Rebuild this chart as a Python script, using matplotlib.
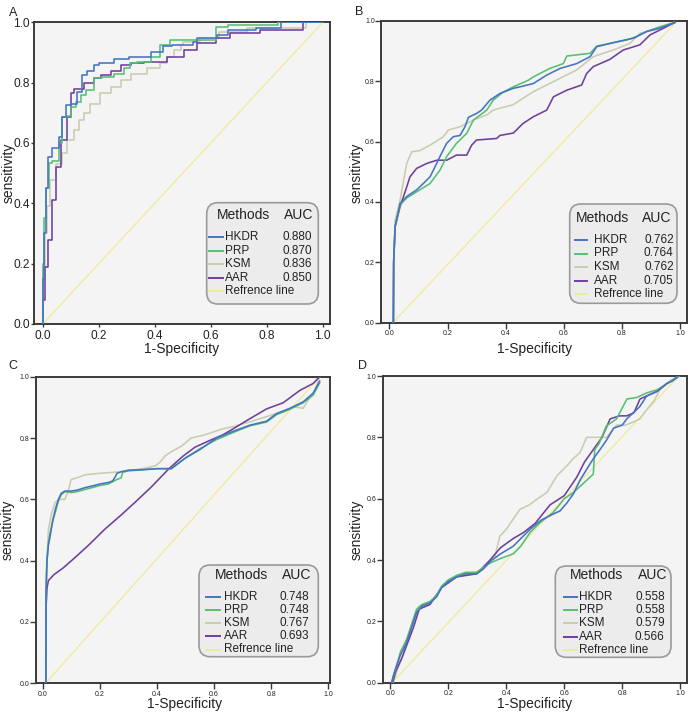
import matplotlib
matplotlib.use('Agg')
import matplotlib.pyplot as plt
from matplotlib.patches import FancyBboxPatch
from matplotlib.lines import Line2D
from matplotlib import font_manager as fm
from matplotlib.font_manager import FontProperties

# ---------------- data ----------------
methods = ['HKDR', 'PRP', 'KSM', 'AAR']
ref_label = 'Refrence line'
panel_letters = ['A', 'B', 'C', 'D']
tick_vals = [0.0, 0.2, 0.4, 0.6, 0.8, 1.0]
tick_labels = ['0.0', '0.2', '0.4', '0.6', '0.8', '1.0']

auc_A = ['0.880', '0.870', '0.836', '0.850']
auc_B = ['0.762', '0.764', '0.762', '0.705']
auc_C = ['0.748', '0.748', '0.767', '0.693']
auc_D = ['0.558', '0.558', '0.579', '0.566']

# Panel A
A_HKDR_x = [0, 0.005, 0.01, 0.02, 0.034, 0.058, 0.07, 0.082, 0.1, 0.124, 0.141, 0.159, 0.183, 0.201, 0.255, 0.308, 0.386, 0.43, 0.46, 0.538, 0.55, 0.621, 0.66, 0.76, 0.85, 0.96, 1.0]
A_HKDR_y = [0, 0.15, 0.3, 0.45, 0.555, 0.582, 0.62, 0.687, 0.726, 0.73, 0.77, 0.825, 0.84, 0.858, 0.864, 0.88, 0.886, 0.90, 0.92, 0.925, 0.935, 0.947, 0.958, 0.974, 0.98, 1.0, 1.0]
A_PRP_x = [0, 0.005, 0.01, 0.024, 0.034, 0.058, 0.07, 0.088, 0.1, 0.118, 0.135, 0.153, 0.183, 0.213, 0.255, 0.29, 0.31, 0.338, 0.386, 0.42, 0.455, 0.62, 0.663, 0.84, 0.97, 1.0]
A_PRP_y = [0, 0.2, 0.35, 0.45, 0.533, 0.54, 0.6, 0.687, 0.69, 0.72, 0.737, 0.76, 0.775, 0.814, 0.82, 0.83, 0.847, 0.864, 0.87, 0.886, 0.925, 0.94, 0.985, 0.99, 1.0, 1.0]
A_KSM_x = [0, 0.008, 0.014, 0.026, 0.046, 0.07, 0.088, 0.11, 0.13, 0.147, 0.17, 0.205, 0.243, 0.28, 0.314, 0.374, 0.42, 0.445, 0.47, 0.494, 0.502, 0.56, 0.63, 0.728, 0.94, 0.97, 1.0]
A_KSM_y = [0, 0.19, 0.3, 0.39, 0.477, 0.53, 0.566, 0.61, 0.643, 0.676, 0.70, 0.73, 0.765, 0.787, 0.81, 0.83, 0.847, 0.864, 0.886, 0.908, 0.925, 0.935, 0.947, 0.969, 0.98, 1.0, 1.0]
A_AAR_x = [0, 0.008, 0.02, 0.032, 0.046, 0.064, 0.088, 0.1, 0.112, 0.147, 0.183, 0.207, 0.243, 0.28, 0.314, 0.362, 0.445, 0.505, 0.55, 0.62, 0.669, 0.776, 0.93, 0.97, 1.0]
A_AAR_y = [0, 0.08, 0.19, 0.28, 0.41, 0.52, 0.61, 0.687, 0.765, 0.78, 0.798, 0.815, 0.825, 0.84, 0.858, 0.866, 0.87, 0.885, 0.908, 0.93, 0.947, 0.964, 0.975, 1.0, 1.0]
A_REF_x = [0.0, 1.0]
A_REF_y = [0.0, 1.0]

# Panel B
B_HKDR_x = [0.014, 0.015, 0.02, 0.037, 0.06, 0.094, 0.117, 0.14, 0.157, 0.174, 0.197, 0.22, 0.243, 0.26, 0.272, 0.3, 0.317, 0.346, 0.38, 0.426, 0.449, 0.495, 0.541, 0.587, 0.644, 0.69, 0.713, 0.781, 0.838, 0.884, 0.93, 0.981]
B_HKDR_y = [0.0, 0.2, 0.318, 0.395, 0.418, 0.44, 0.461, 0.483, 0.516, 0.55, 0.594, 0.616, 0.62, 0.649, 0.68, 0.693, 0.704, 0.737, 0.759, 0.776, 0.781, 0.792, 0.82, 0.842, 0.858, 0.881, 0.914, 0.93, 0.942, 0.964, 0.975, 0.994]
B_PRP_x = [0.014, 0.015, 0.02, 0.037, 0.06, 0.105, 0.14, 0.174, 0.197, 0.231, 0.266, 0.289, 0.335, 0.357, 0.392, 0.426, 0.478, 0.495, 0.552, 0.598, 0.61, 0.69, 0.713, 0.815, 0.85, 0.884, 0.93, 0.981]
B_PRP_y = [0.0, 0.2, 0.318, 0.39, 0.413, 0.44, 0.461, 0.505, 0.55, 0.594, 0.627, 0.671, 0.704, 0.737, 0.764, 0.781, 0.803, 0.814, 0.842, 0.858, 0.883, 0.892, 0.916, 0.936, 0.947, 0.964, 0.98, 0.994]
B_KSM_x = [0.014, 0.015, 0.02, 0.037, 0.06, 0.077, 0.105, 0.14, 0.186, 0.203, 0.243, 0.289, 0.335, 0.357, 0.426, 0.495, 0.564, 0.644, 0.701, 0.77, 0.827, 0.861, 0.919, 0.976]
B_KSM_y = [0.0, 0.2, 0.34, 0.406, 0.528, 0.566, 0.57, 0.588, 0.616, 0.638, 0.649, 0.671, 0.688, 0.704, 0.722, 0.765, 0.798, 0.837, 0.881, 0.903, 0.925, 0.958, 0.975, 0.994]
B_AAR_x = [0.014, 0.015, 0.02, 0.037, 0.06, 0.071, 0.094, 0.128, 0.163, 0.197, 0.231, 0.266, 0.283, 0.3, 0.369, 0.38, 0.426, 0.46, 0.495, 0.541, 0.564, 0.61, 0.661, 0.678, 0.701, 0.758, 0.804, 0.861, 0.896, 0.942, 0.981]
B_AAR_y = [0.0, 0.2, 0.318, 0.384, 0.45, 0.483, 0.511, 0.527, 0.538, 0.538, 0.555, 0.555, 0.588, 0.605, 0.61, 0.62, 0.628, 0.66, 0.682, 0.704, 0.748, 0.77, 0.787, 0.825, 0.848, 0.872, 0.903, 0.92, 0.953, 0.975, 0.994]
B_REF_x = [0.012, 0.99]
B_REF_y = [0.0, 1.0]

# Panel C
C_HKDR_x = [0.011, 0.012, 0.015, 0.02, 0.026, 0.035, 0.045, 0.055, 0.065, 0.078, 0.1, 0.12, 0.148, 0.18, 0.2, 0.23, 0.245, 0.255, 0.26, 0.275, 0.3, 0.35, 0.4, 0.45, 0.5, 0.55, 0.609, 0.667, 0.726, 0.784, 0.819, 0.866, 0.912, 0.947, 0.97]
C_HKDR_y = [0.0, 0.3, 0.4, 0.45, 0.48, 0.53, 0.57, 0.6, 0.62, 0.627, 0.627, 0.63, 0.638, 0.645, 0.65, 0.655, 0.66, 0.675, 0.685, 0.69, 0.695, 0.697, 0.70, 0.70, 0.735, 0.762, 0.80, 0.822, 0.842, 0.855, 0.88, 0.897, 0.918, 0.946, 0.985]
C_PRP_x = [0.011, 0.012, 0.015, 0.02, 0.026, 0.035, 0.045, 0.055, 0.065, 0.078, 0.1, 0.12, 0.148, 0.18, 0.2, 0.23, 0.26, 0.275, 0.28, 0.3, 0.35, 0.4, 0.45, 0.5, 0.55, 0.609, 0.667, 0.726, 0.784, 0.819, 0.866, 0.912, 0.947, 0.97]
C_PRP_y = [0.0, 0.3, 0.4, 0.46, 0.49, 0.53, 0.56, 0.595, 0.615, 0.625, 0.622, 0.625, 0.632, 0.64, 0.645, 0.65, 0.665, 0.67, 0.688, 0.693, 0.696, 0.70, 0.70, 0.735, 0.765, 0.795, 0.818, 0.84, 0.852, 0.876, 0.894, 0.915, 0.94, 0.98]
C_KSM_x = [0.011, 0.012, 0.02, 0.03, 0.043, 0.06, 0.078, 0.09, 0.1, 0.12, 0.148, 0.2, 0.275, 0.35, 0.393, 0.41, 0.428, 0.45, 0.487, 0.52, 0.566, 0.63, 0.667, 0.726, 0.784, 0.842, 0.877, 0.912, 0.93, 0.953, 0.97]
C_KSM_y = [0.0, 0.35, 0.5, 0.55, 0.59, 0.6, 0.6, 0.63, 0.665, 0.67, 0.68, 0.685, 0.69, 0.70, 0.709, 0.72, 0.741, 0.755, 0.774, 0.8, 0.81, 0.83, 0.837, 0.853, 0.87, 0.886, 0.902, 0.897, 0.924, 0.957, 1.0]
C_AAR_x = [0.011, 0.012, 0.015, 0.02, 0.04, 0.07, 0.113, 0.16, 0.218, 0.27, 0.323, 0.38, 0.44, 0.49, 0.533, 0.58, 0.63, 0.667, 0.72, 0.784, 0.842, 0.9, 0.947, 0.97]
C_AAR_y = [0.0, 0.25, 0.31, 0.335, 0.355, 0.375, 0.41, 0.45, 0.503, 0.545, 0.59, 0.64, 0.698, 0.74, 0.77, 0.79, 0.81, 0.83, 0.86, 0.895, 0.915, 0.955, 0.978, 1.0]
C_REF_x = [0.01, 0.97]
C_REF_y = [0.0, 1.0]

# Panel D
D_HKDR_x = [0.005, 0.01, 0.02, 0.035, 0.056, 0.07, 0.091, 0.11, 0.137, 0.16, 0.177, 0.2, 0.229, 0.26, 0.298, 0.32, 0.344, 0.38, 0.424, 0.45, 0.482, 0.52, 0.562, 0.585, 0.608, 0.631, 0.654, 0.68, 0.70, 0.723, 0.745, 0.77, 0.8, 0.815, 0.838, 0.86, 0.884, 0.92, 0.953, 0.975, 0.995]
D_HKDR_y = [0.0, 0.02, 0.05, 0.09, 0.13, 0.17, 0.23, 0.25, 0.26, 0.28, 0.31, 0.33, 0.345, 0.355, 0.355, 0.37, 0.395, 0.42, 0.445, 0.47, 0.5, 0.53, 0.55, 0.56, 0.585, 0.615, 0.66, 0.7, 0.73, 0.76, 0.79, 0.83, 0.84, 0.86, 0.88, 0.9, 0.935, 0.95, 0.975, 0.985, 1.0]
D_PRP_x = [0.005, 0.01, 0.02, 0.035, 0.056, 0.07, 0.091, 0.11, 0.137, 0.16, 0.177, 0.2, 0.229, 0.26, 0.298, 0.32, 0.344, 0.38, 0.424, 0.45, 0.482, 0.52, 0.562, 0.6, 0.631, 0.66, 0.70, 0.705, 0.72, 0.745, 0.78, 0.816, 0.85, 0.884, 0.92, 0.953, 0.995]
D_PRP_y = [0.0, 0.02, 0.05, 0.1, 0.14, 0.18, 0.24, 0.255, 0.265, 0.285, 0.315, 0.335, 0.35, 0.36, 0.36, 0.375, 0.39, 0.405, 0.42, 0.445, 0.49, 0.525, 0.555, 0.6, 0.62, 0.645, 0.68, 0.76, 0.78, 0.837, 0.86, 0.925, 0.93, 0.945, 0.955, 0.975, 1.0]
D_KSM_x = [0.01, 0.02, 0.04, 0.056, 0.08, 0.1, 0.137, 0.177, 0.229, 0.298, 0.33, 0.36, 0.378, 0.4, 0.447, 0.48, 0.505, 0.54, 0.574, 0.608, 0.63, 0.654, 0.677, 0.7, 0.746, 0.78, 0.81, 0.838, 0.86, 0.884, 0.91, 0.93, 0.96, 0.995]
D_KSM_y = [0.0, 0.03, 0.08, 0.13, 0.2, 0.25, 0.26, 0.31, 0.35, 0.36, 0.38, 0.41, 0.478, 0.5, 0.565, 0.58, 0.598, 0.62, 0.674, 0.706, 0.73, 0.75, 0.80, 0.80, 0.80, 0.84, 0.84, 0.85, 0.86, 0.89, 0.92, 0.956, 0.98, 1.0]
D_AAR_x = [0.008, 0.02, 0.04, 0.056, 0.08, 0.1, 0.137, 0.177, 0.229, 0.298, 0.344, 0.38, 0.424, 0.46, 0.5, 0.551, 0.6, 0.643, 0.67, 0.70, 0.73, 0.758, 0.79, 0.815, 0.84, 0.861, 0.884, 0.92, 0.953, 0.995]
D_AAR_y = [0.0, 0.04, 0.08, 0.12, 0.18, 0.24, 0.255, 0.31, 0.345, 0.355, 0.40, 0.44, 0.47, 0.49, 0.52, 0.58, 0.61, 0.67, 0.72, 0.76, 0.80, 0.86, 0.87, 0.87, 0.88, 0.925, 0.935, 0.95, 0.975, 1.0]
D_REF_x = [0.006, 0.995]
D_REF_y = [0.0, 1.0]

# ---------------- style ----------------
W, H = 694, 712
colors = {'HKDR': '#4673c2', 'PRP': '#55bf74', 'KSM': '#cbcbae', 'AAR': '#6e3f9b'}
ref_color = '#efea98'
bg = '#f4f4f4'
frame_color = '#3a3a3a'

plt.rcParams['font.family'] = ['Liberation Sans', 'DejaVu Sans']


def has_font(name):
    try:
        fm.findfont(FontProperties(family=name), fallback_to_default=False)
        return True
    except Exception:
        return False


if has_font('Liberation Sans Narrow'):
    narrow_family = ['Liberation Sans Narrow', 'Liberation Sans']
    narrow_size = 9.6
else:
    narrow_family = ['Liberation Sans', 'DejaVu Sans']
    narrow_size = 8.5

fig = plt.figure(figsize=(W / 100, H / 100), dpi=100)
fig.patch.set_facecolor('white')


def fx(px):
    return px / W


def fy(py):
    return 1 - py / H


panel_data = {
    'A': ([A_HKDR_x, A_PRP_x, A_KSM_x, A_AAR_x], [A_HKDR_y, A_PRP_y, A_KSM_y, A_AAR_y], A_REF_x, A_REF_y, auc_A),
    'B': ([B_HKDR_x, B_PRP_x, B_KSM_x, B_AAR_x], [B_HKDR_y, B_PRP_y, B_KSM_y, B_AAR_y], B_REF_x, B_REF_y, auc_B),
    'C': ([C_HKDR_x, C_PRP_x, C_KSM_x, C_AAR_x], [C_HKDR_y, C_PRP_y, C_KSM_y, C_AAR_y], C_REF_x, C_REF_y, auc_C),
    'D': ([D_HKDR_x, D_PRP_x, D_KSM_x, D_AAR_x], [D_HKDR_y, D_PRP_y, D_KSM_y, D_AAR_y], D_REF_x, D_REF_y, auc_D),
}

# layout per panel (pixels)
layout = {
    'A': dict(rect=(34.3, 22.3, 330, 324), xlim=(-0.030, 1.026), tick_fs=8.6, tick_len=2.5,
              letter=(13, 12.5), ylab=(9, 173), xlab=(182, 349), steps=True,
              box=(206.7, 202.7, 111.6, 101.3), hdr_y=12.3, e0=34.6, de=13.4,
              hx=(2.3, 16.3), tx=18.3, vx=105, mx=10, ax_=106.3),
    'B': dict(rect=(381.3, 20.7, 687, 322.7), xlim=(-0.0275, 1.023), tick_fs=5.0, tick_len=4,
              letter=(359, 12), ylab=(357, 173), xlab=(535, 349), steps=False,
              box=(569.7, 204, 107.3, 99.3), hdr_y=14.3, e0=36, de=13.5,
              hx=(5.7, 17.3), tx=24, vx=104, mx=5.7, ax_=102),
    'C': dict(rect=(35.7, 376.7, 330, 683.3), xlim=(-0.0245, 1.006), tick_fs=5.0, tick_len=4,
              letter=(13, 366), ylab=(8, 530), xlab=(185, 704), steps=False,
              box=(199, 565, 119.3, 91.7), hdr_y=10, e0=31.7, de=13.2,
              hx=(7, 21), tx=25, vx=110.3, mx=16, ax_=112.7),
    'D': dict(rect=(382.7, 376, 687, 682.7), xlim=(-0.026, 1.023), tick_fs=5.0, tick_len=4,
              letter=(362, 366), ylab=(357, 530), xlab=(535, 704), steps=False,
              box=(555.3, 566, 115.7, 91.3), hdr_y=9, e0=30.7, de=13.3,
              hx=(8.4, 21.7), tx=23.4, vx=109.4, mx=14.4, ax_=112.4),
}

draw_order = [2, 3, 1, 0]  # KSM, AAR, PRP, HKDR

for letter in panel_letters:
    L = layout[letter]
    xs, ys, rx, ry, aucs = panel_data[letter]
    l, t, r, b = L['rect']
    ax = fig.add_axes([fx(l), fy(b), (r - l) / W, (b - t) / H])
    ax.set_facecolor(bg)
    ax.set_xlim(*L['xlim'])
    ax.set_ylim(0, 1)
    ax.plot(rx, ry, color=ref_color, lw=0.9, zorder=2)
    for i in draw_order:
        kw = dict(drawstyle='steps-pre') if L['steps'] else {}
        ax.plot(xs[i], ys[i], color=colors[methods[i]], lw=1.15, zorder=3, **kw)
    ax.set_xticks(tick_vals)
    ax.set_xticklabels(tick_labels)
    ax.set_yticks(tick_vals)
    ax.set_yticklabels(tick_labels)
    ax.tick_params(axis='both', direction='out', length=L['tick_len'], width=1.0,
                   colors=frame_color, labelsize=L['tick_fs'], labelcolor='#222222', pad=1.5)
    ax.tick_params(axis='y', pad=0.6)
    for s in ax.spines.values():
        s.set_color(frame_color)
        s.set_linewidth(1.4)

    # labels
    fig.text(fx(L['letter'][0]), fy(L['letter'][1]), letter, fontsize=9, ha='center', va='center', color='#222222')
    fig.text(fx(L['ylab'][0]), fy(L['ylab'][1]), 'sensitivity', fontsize=10, rotation=90,
             ha='center', va='center', color='#222222')
    fig.text(fx(L['xlab'][0]), fy(L['xlab'][1]), '1-Specificity', fontsize=10,
             ha='center', va='center', color='#222222')

    # legend box
    bx, by, bw, bh = L['box']
    patch = FancyBboxPatch((fx(bx), fy(by + bh)), bw / W, bh / H,
                           boxstyle='round,pad=0,rounding_size=0.016',
                           transform=fig.transFigure, facecolor='#ececec',
                           edgecolor='#9a9a9a', linewidth=1.2, zorder=5)
    fig.add_artist(patch)
    fig.text(fx(bx + L['mx']), fy(by + L['hdr_y']), 'Methods', fontsize=10, ha='left',
             va='center', color='#222222', zorder=6)
    fig.text(fx(bx + L['ax_']), fy(by + L['hdr_y']), 'AUC', fontsize=10, ha='right',
             va='center', color='#222222', zorder=6)
    labels = methods + [ref_label]
    lcolors = [colors[m] for m in methods] + [ref_color]
    vals = aucs + ['']
    for k in range(5):
        yy = by + L['e0'] + k * L['de']
        fig.add_artist(Line2D([fx(bx + L['hx'][0]), fx(bx + L['hx'][1])], [fy(yy), fy(yy)],
                              transform=fig.transFigure, color=lcolors[k], lw=1.4, zorder=6))
        fig.text(fx(bx + L['tx']), fy(yy), labels[k], fontsize=narrow_size, family=narrow_family,
                 ha='left', va='center', color='#222222', zorder=6)
        if vals[k]:
            fig.text(fx(bx + L['vx']), fy(yy), vals[k], fontsize=narrow_size, family=narrow_family,
                     ha='right', va='center', color='#222222', zorder=6)

fig.savefig('out.png', dpi=100, facecolor='white')
